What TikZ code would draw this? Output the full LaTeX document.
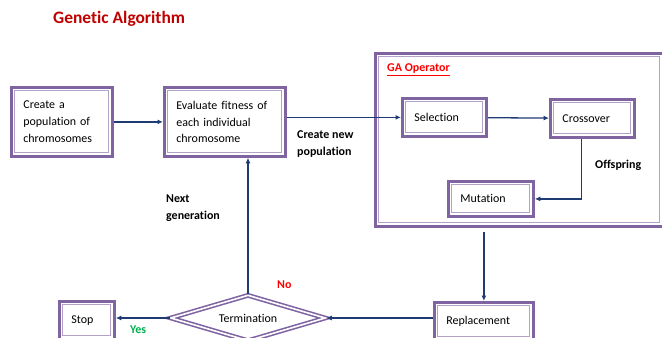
\documentclass[tikz,border=0pt]{standalone}
\usepackage{fontspec}
\setmainfont{Carlito}[Ligatures=NoCommon]
\usetikzlibrary{shapes.geometric,arrows.meta}
\definecolor{gapurple}{HTML}{8064A2}
\definecolor{galilac}{HTML}{B3A2C7}
\definecolor{ganavy}{HTML}{1F3B73}
\definecolor{gared}{HTML}{C00000}
\definecolor{gagreen}{HTML}{00B050}
\begin{document}
\begin{tikzpicture}[x=1bp, y=-1bp, font=\fontsize{12}{17}\selectfont,
    gabox/.style={draw=gapurple, line width=2.8pt, fill=white, anchor=north west,
      inner xsep=12bp, inner ysep=0pt, align=left,
      path picture={\draw [galilac, line width=0.9pt]
        ([shift={(3.5bp,-3.5bp)}]path picture bounding box.north west) rectangle
        ([shift={(-3.5bp,3.5bp)}]path picture bounding box.south east);}},
    link/.style={ganavy, line width=1.3pt, -{Latex[length=5.5pt,width=5pt]}},
    tag/.style={font=\fontsize{12}{17}\selectfont\bfseries, align=left, anchor=west, inner sep=0pt}]
  \useasboundingbox [fill=white] (0,0) rectangle (662,337);
  \node [anchor=west, inner sep=0pt, text=gared, font=\fontsize{17.5}{20}\selectfont\bfseries]
    (title) at (53,19) {Genetic Algorithm};
  % main boxes
  \node [gabox, text width=77bp, minimum height=69bp] (create) at (10,86)
    {Create a\\population of\\chromosomes};
  \node [gabox, text width=97bp, minimum height=69bp] (fitness) at (163,86)
    {Evaluate fitness of\\each individual\\chromosome};
  % GA operator block
  \node [gabox, text width=264bp, minimum height=173bp] (ga) at (374,52) {};
  \node [tag, text=red] (galabel) at (387,70) {\underline{GA Operator}};
  \node [gabox, text width=60bp, minimum height=38bp] (sel) at (401,97) {Selection};
  \node [gabox, text width=60bp, minimum height=38bp] (cross) at (549,98) {Crossover};
  \node [gabox, text width=61bp, minimum height=35bp] (mut) at (447,180) {Mutation};
  % bottom row
  \node [gabox, text width=75bp, minimum height=38bp] (repl) at (433,301) {Replacement};
  \node [gabox, text width=31bp, minimum height=38bp] (stop) at (58,300) {Stop};
  \node [diamond, aspect=3.2, draw=gapurple, double=white, line width=1.6pt,
    double distance=1.6pt, inner sep=0pt, minimum width=155bp, minimum height=46bp]
    (term) at (248,318) {Termination};
  % labels
  \node [tag] (newpop) at (297,144) {Create new\\population};
  \node [tag] (nextgen) at (166,208) {Next\\generation};
  \node [tag] (offs) at (595,165) {Offspring};
  \node [tag, text=red] (no) at (277,285) {No};
  \node [tag, text=gagreen] (yes) at (130,330) {Yes};
  % connectors
  \draw [link] (create) -- (fitness);
  \draw [link] (fitness.east |- sel.west) -- (sel.west);
  \draw [link] (sel) -- (cross);
  \draw [link] ([xshift=-11bp]cross.south) |- (mut.east);
  \draw [link] ([yshift=-4bp]ga.south -| repl.north) -- (repl.north);
  \draw [link] (repl.west |- term.east) -- (term.east);
  \draw [link] (term.west) -- (stop.east |- term.west);
  \draw [link] (term.north) -- (term.north |- fitness.south);
\end{tikzpicture}
\end{document}
